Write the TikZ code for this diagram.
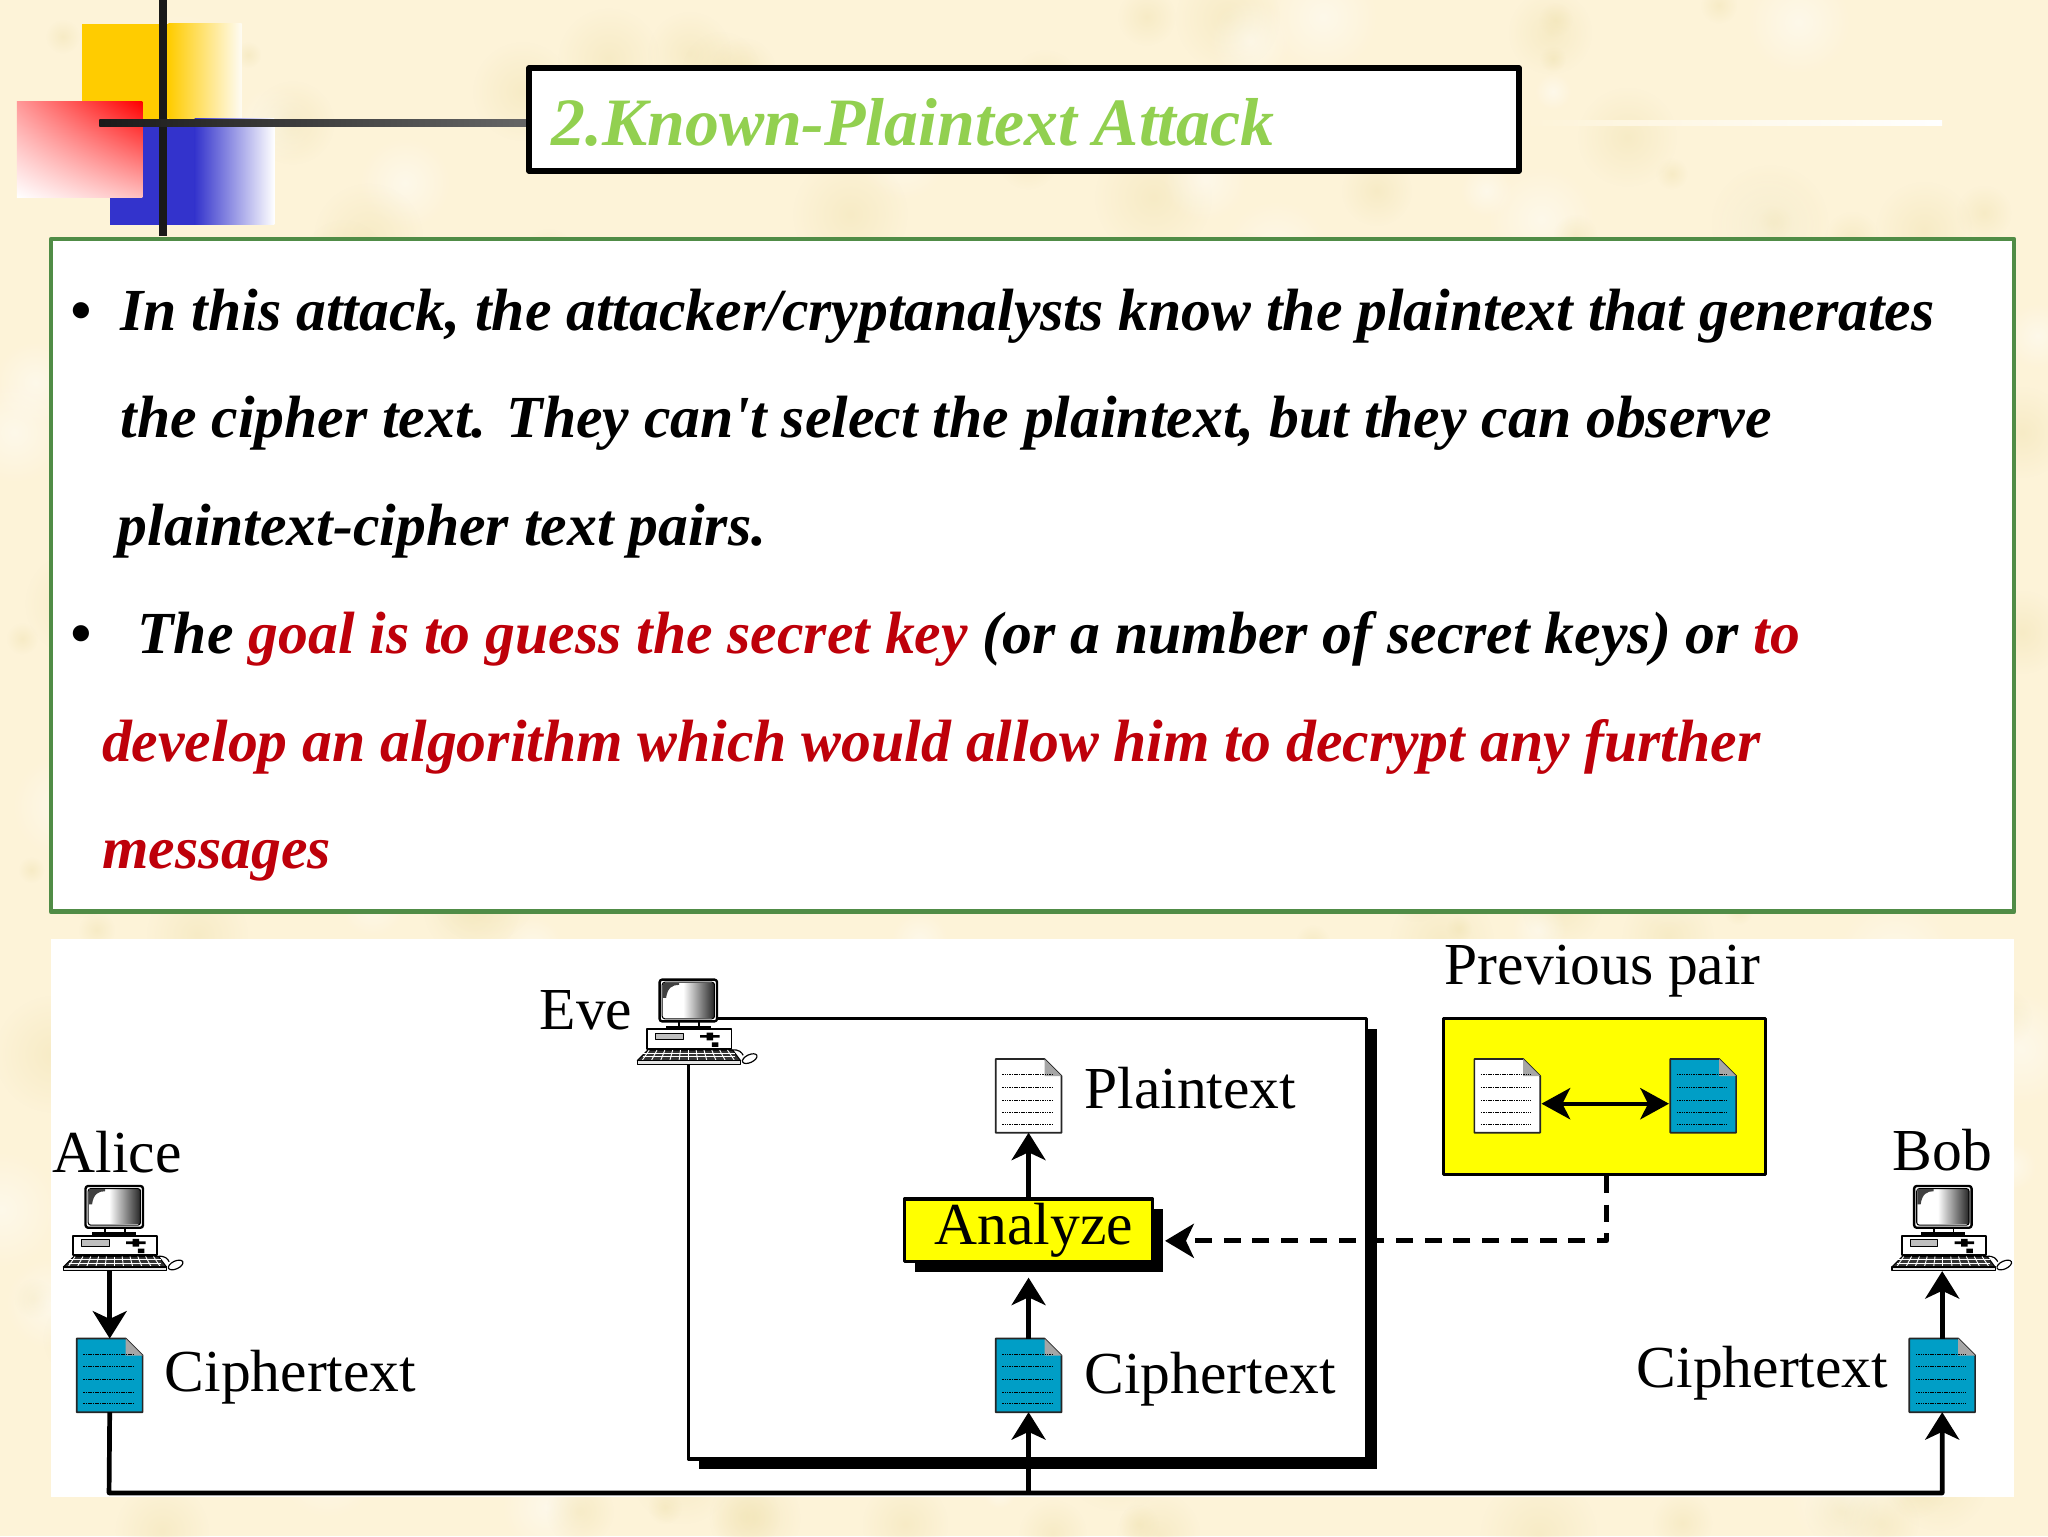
\documentclass[tikz,border=0pt]{standalone}
\usepackage{fontspec}
\setmainfont[Ligatures=TeXOff]{Liberation Serif}
\usetikzlibrary{arrows.meta,positioning,calc,fadings,shadows,shadings}
\definecolor{paper}{RGB}{253,243,216}
\definecolor{paperspot}{RGB}{240,226,176}
\definecolor{docblue}{RGB}{0,158,198}
\definecolor{boxgreen}{RGB}{80,140,70}
\definecolor{boxyellow}{RGB}{255,255,0}
\definecolor{titlegreen}{RGB}{146,208,80}
\definecolor{keyred}{RGB}{190,0,10}
\definecolor{squareblue}{RGB}{51,51,204}
\definecolor{squareyellow}{RGB}{255,204,0}
\tikzfading[name=softspot, inner color=transparent!55, outer color=transparent!100]
\tikzset{
bodyline/.style={anchor=base west, inner sep=0pt, font=\fontsize{45.7}{50}\selectfont\bfseries\itshape},
nametext/.style={anchor=base west, inner sep=0pt, font=\fontsize{45.6}{50}\selectfont},
arr/.style={line width=3.6pt, -{Stealth[length=21pt,width=26pt,inset=6pt]}},
docbox/.style={minimum width=50pt, minimum height=56pt, inner sep=0pt},
pcbox/.style={minimum width=79pt, minimum height=65pt, inner sep=0pt},
shadowbox/.style={draw, line width=2.4pt, inner sep=0pt, drop shadow={shadow xshift=8pt, shadow yshift=-8pt, fill=black, opacity=1}}
}
\newcommand \mydoc[3]
{
\node[docbox] (#1) at (#2) {};
\draw[line width=1.3pt, black!85, fill=#3] (#1.north west)--($(#1.north east)+(-13,0)$)--($(#1.north east)+(0,13)$)--(#1.south east)--(#1.south west)--cycle;
\fill[black!35] ($(#1.north east)+(-13,0)$)--($(#1.north east)+(0,13)$)--($(#1.north east)+(-13,13)$)--cycle;
\foreach \ly in {12,21.5,31.5,41,50}
  \draw[line width=0.7pt, dash pattern=on 1.2pt off 0.6pt] ($(#1.north west)+(5,\ly)$)--++(38,0);
}
\newcommand \mypc[3]
{
\node[pcbox] (#1) at ($(#2,#3)+(0.5,32.5)$) {};
\begin{scope}[shift={(#2,#3)}]
\draw[fill=white, line width=1.2pt] (-7,31) rectangle (8,37);
\fill (-17,35.5) rectangle (17,38);
\draw[fill=white, line width=1.4pt] (-31.5,38) rectangle (33,53);
\draw[fill=black!25, line width=0.6pt] (-25,41) rectangle (-4,46);
\fill (9,42.5) rectangle (24,44.5) (14,40.5) rectangle (19,46.5) (18,48) rectangle (23,51.5);
\draw[fill=black!80, line width=0.8pt] (-31,54)--(34,54)--(40,62)--(-39,62)--cycle;
\foreach \kx in {-30,-24,...,30}
  \draw[white, line width=0.7pt] (\kx,54)--(\kx*1.18,62);
\foreach \ky in {56.5,59}
  \draw[white, line width=0.7pt] (-35,\ky)--(36,\ky);
\draw[fill=black!10, line width=0.9pt] (-39,62) rectangle (40,65);
\draw[line width=0.9pt] (33,54) .. controls (39,53) and (41,56) .. (42,58);
\draw[fill=white, line width=0.9pt, rotate around={25:(47,60.5)}] (47,60.5) ellipse [x radius=6, y radius=3];
\draw[fill=white, line width=1.8pt, rounded corners=2pt] (-22,0) rectangle (22,32);
\shade[left color=white, right color=black!85] (-4,3) rectangle (20,29);
\draw[line width=0.8pt, rounded corners=2pt] (-20,2) rectangle (20,30);
\fill[black!75] (-19.5,2.5)--(-7,2.5)--(-7,4) .. controls (-12,4) and (-16,6) .. (-17,14)--(-19.5,14)--cycle;
\end{scope}
}
\begin{document}
\begin{tikzpicture}[x=1pt, y=-1pt, line join=round]
\useasboundingbox (0,0) rectangle (1568,1176);
\fill[paper] (0,0) rectangle (1568,1176);
% paper texture
\begin{scope}
\clip (0,0) rectangle (1568,1176);
\pgfmathsetseed{77}
\foreach \i in {1,...,320}
{
\pgfmathsetmacro\spotx{random(0,1568)}
\pgfmathsetmacro\spoty{random(0,1176)}
\pgfmathsetmacro\spotr{random(10,45)}
\pgfmathparse{mod(\i,3)==0 ? "white" : "paperspot"}
\edef\spotc{\pgfmathresult}
\fill[\spotc, path fading=softspot] (\spotx,\spoty) circle (\spotr);
}
\end{scope}
% corner squares
\fill[squareyellow] (63,18) rectangle (129,91);
\shade[left color=squareyellow, right color=white!70!paper] (129,18) rectangle (185,91);
\fill[squareblue] (84,91) rectangle (149,172);
\shade[left color=squareblue, right color=white] (149,91) rectangle (210,172);
\shade[upper right=red, upper left=red!40, lower left=white, lower right=red!25] (13,78) rectangle (109,151);
\fill[black!90] (122,0) rectangle (127.5,181);
\shade[left color=black!90, right color=black!60] (76,91.5) rectangle (404,97);
\shade[left color=paper, right color=white] (1168,92) rectangle (1487,96);
% title
\node[draw, line width=4pt, fill=white, minimum width=758pt, minimum height=79pt] (titlebox) at (784,91.5) {};
\node[anchor=base west, inner sep=0pt, text=titlegreen, font=\fontsize{51.9}{56}\selectfont\bfseries\itshape] (titletext) at (422,111.5) {2.Known-Plaintext Attack};
% text panel
\node[draw=boxgreen, line width=3.5pt, fill=white, minimum width=1503pt, minimum height=515pt] (textbox) at (790.5,440.5) {};
\node[bodyline] (bullet1) at (54,253) {•};
\node[bodyline] (line1) at (92,253) {In this attack, the attacker/cryptanalysts know the plaintext that generates};
\node[bodyline] (line2) at (92,335) {the cipher text. They can't select the plaintext, but they can observe};
\node[bodyline] (line3) at (90,418) {plaintext-cipher text pairs.};
\node[bodyline] (bullet2) at (54,500) {•};
\node[bodyline] (line4) at (105,500) {The \textcolor{keyred}{goal is to guess the secret key} (or a number of secret keys) or \textcolor{keyred}{to}};
\node[bodyline, text=keyred] (line5) at (78,583) {develop an algorithm which would allow him to decrypt any further};
\node[bodyline, text=keyred] (line6) at (78,665) {messages};
% diagram panel
\fill[white] (39,719) rectangle (1542,1146);
\node[shadowbox, fill=white, minimum width=519pt, minimum height=337pt] (evebox) at (786.5,948.5) {};
\mypc{evepc}{527}{750}
\mypc{alicepc}{87.5}{908}
\mypc{bobpc}{1487.5}{908}
\node[nametext] (evetext) at (413,788) {Eve};
\node[nametext] (alicetext) at (40,898) {Alice};
\node[nametext] (bobtext) at (1449,896) {Bob};
\mydoc{plaindoc}{787.5,839}{white}
\mydoc{evedoc}{787.5,1053}{docblue}
\mydoc{alicedoc}{84,1053}{docblue}
\mydoc{bobdoc}{1487,1053}{docblue}
\node[nametext] (plaintext) at (830,849) {Plaintext};
\node[nametext] (evecipher) at (830,1067) {Ciphertext};
\node[nametext] (alicecipher) at (126,1065) {Ciphertext};
\node[nametext] (bobcipher) at (1253,1062) {Ciphertext};
\node[shadowbox, fill=boxyellow, minimum width=190pt, minimum height=48pt, font=\fontsize{45.6}{50}\selectfont] (analyze) at (787.5,942) {\hspace*{8pt}Analyze};
\draw[arr] (analyze.north)--(plaindoc.south);
\draw[arr] (evedoc.north)--($(analyze.south)+(0,11)$);
% previous pair
\node[nametext] (prevtext) at (1106,754) {Previous pair};
\node[draw, line width=2.4pt, fill=boxyellow, minimum width=247pt, minimum height=119pt] (prevbox) at (1228.5,839.5) {};
\mydoc{prevplain}{1154,839}{white}
\mydoc{prevcipher}{1304,839}{docblue}
\draw[line width=2.8pt, {Stealth[length=22pt,width=24pt,inset=6pt]}-{Stealth[length=22pt,width=24pt,inset=6pt]}] ($(prevplain.east)+(1,6)$)--($(prevcipher.west)+(-1,6)$);
\coordinate (dashcorner) at (1230,950);
\coordinate (dashtip) at (892,950);
\draw[line width=4pt, dash pattern=on 13pt off 9pt, -{Stealth[length=22pt,width=26pt,inset=6pt]}] (dashcorner |- prevbox.south)--(dashcorner)--(dashtip);
% connectors
\coordinate (busleft) at (83.5,1143);
\coordinate (busright) at (1487,1143);
\coordinate (busmid) at (787.5,1143);
\draw[arr] (alicedoc.north |- alicepc.south)--(alicedoc.north);
\draw[arr] (alicedoc.south)--(busleft)--(busright)--(bobdoc.south);
\draw[arr] (busmid)--(evedoc.south);
\draw[arr] (bobdoc.north)--(bobdoc.north |- bobpc.south);
\end{tikzpicture}
\end{document}
